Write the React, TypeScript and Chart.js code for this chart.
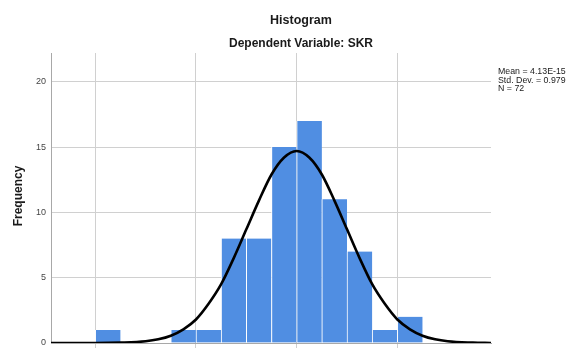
import React, { useEffect, useRef } from "react";
import { Chart, registerables } from "chart.js";

Chart.register(...registerables);

// Histogram bins (centers of 0.5-wide bins) and frequencies
const binCenters = [-3.75, -2.25, -1.75, -1.25, -0.75, -0.25, 0.25, 0.75, 1.25, 1.75, 2.25];
const frequencies = [1, 1, 1, 8, 8, 15, 17, 11, 7, 1, 2];

// Normal curve
const curveX = [-4.88, -4, -3.5, -3, -2.75, -2.5, -2.25, -2, -1.75, -1.5, -1.25, -1, -0.75, -0.5, -0.25, 0, 0.25, 0.5, 0.75, 1, 1.25, 1.5, 1.75, 2, 2.25, 2.5, 2.75, 3, 3.5, 3.86];
const curveY = [0, 0, 0.03, 0.13, 0.28, 0.56, 1.05, 1.8, 3.0, 4.5, 6.5, 8.7, 10.9, 12.9, 14.2, 14.7, 14.2, 12.9, 10.9, 8.7, 6.5, 4.5, 3.0, 1.8, 1.05, 0.56, 0.28, 0.13, 0.03, 0];

const yTicks = [0, 5, 10, 15, 20];
const xTicks = [-4, -2, 0, 2];

const titleText = "Histogram";
const subtitleText = "Dependent Variable: SKR";
const yAxisTitle = "Frequency";
const statsLines = ["Mean = 4.13E-15", "Std. Dev. = 0.979", "N = 72"];

const BAR_COLOR = "rgb(80,142,226)";
const GRID_COLOR = "#d0d0d0";
const SANS = "'Liberation Sans', Arial, Helvetica, sans-serif";

const textPlugin = {
  id: "spssText",
  afterDraw(chart: any) {
    const ctx = chart.ctx;
    ctx.save();
    ctx.fillStyle = "#1a1a1a";
    ctx.textAlign = "center";
    ctx.textBaseline = "middle";
    ctx.font = `bold 12.5px ${SANS}`;
    ctx.fillText(titleText, 301, 21);
    ctx.font = `bold 12px ${SANS}`;
    ctx.fillText(subtitleText, 301, 44);

    ctx.save();
    ctx.translate(19, 196);
    ctx.rotate(-Math.PI / 2);
    ctx.fillText(yAxisTitle, 0, 0);
    ctx.restore();

    ctx.textAlign = "left";
    ctx.font = `8.8px ${SANS}`;
    ctx.fillStyle = "#222";
    statsLines.forEach((s, i) => ctx.fillText(s, 498, 72 + i * 8.3));
    ctx.restore();
  },
};

export default function App() {
  const ref = useRef<HTMLCanvasElement>(null);

  useEffect(() => {
    document.body.style.margin = "0";
    const canvas = ref.current;
    if (!canvas) return;
    const chart = new Chart(canvas, {
      type: "bar",
      data: {
        datasets: [
          {
            type: "line",
            label: "Normal",
            data: curveX.map((x, i) => ({ x, y: curveY[i] })),
            borderColor: "#000",
            borderWidth: 2.6,
            pointRadius: 0,
            cubicInterpolationMode: "monotone",
            fill: false,
            order: 0,
          } as any,
          {
            type: "bar",
            label: "Frequency",
            data: binCenters.map((x, i) => ({ x, y: frequencies[i] })),
            backgroundColor: BAR_COLOR,
            borderColor: "#ffffff",
            borderWidth: { left: 1, right: 0, top: 0, bottom: 0 },
            borderSkipped: false,
            barPercentage: 1,
            categoryPercentage: 1,
            order: 1,
          } as any,
        ],
      },
      options: {
        responsive: false,
        animation: false,
        events: [],
        layout: { padding: { left: 0, top: 53, right: 78, bottom: 0 } },
        plugins: {
          legend: { display: false },
          title: { display: false },
          tooltip: { enabled: false },
        },
        scales: {
          x: {
            type: "linear",
            min: -4.88,
            max: 3.86,
            offset: false,
            afterBuildTicks: (scale: any) => {
              scale.ticks = xTicks.map((v) => ({ value: v }));
            },
            afterFit: (scale: any) => {
              scale.height = 6;
              scale.paddingLeft = 0;
              scale.paddingRight = 0;
            },
            ticks: { display: false },
            grid: {
              color: GRID_COLOR,
              lineWidth: 1,
              offset: false,
              drawTicks: true,
              tickLength: 5,
            },
            border: { display: true, color: "#a8a8a8", width: 1 },
          },
          y: {
            type: "linear",
            min: 0,
            max: 22.2,
            afterBuildTicks: (scale: any) => {
              scale.ticks = yTicks.map((v) => ({ value: v }));
            },
            afterFit: (scale: any) => {
              scale.width = 51;
              scale.paddingTop = 0;
              scale.paddingBottom = 0;
            },
            ticks: {
              color: "#444",
              font: { size: 9, family: SANS },
              padding: 5,
            },
            grid: { color: GRID_COLOR, lineWidth: 1, drawTicks: false },
            border: { display: true, color: "#a8a8a8", width: 1 },
          },
        },
      },
      plugins: [textPlugin],
    });
    return () => chart.destroy();
  }, []);

  return (
    <div style={{ width: 569, height: 349, position: "relative", background: "#fff" }}>
      <canvas ref={ref} width={569} height={349} style={{ display: "block" }} />
    </div>
  );
}
